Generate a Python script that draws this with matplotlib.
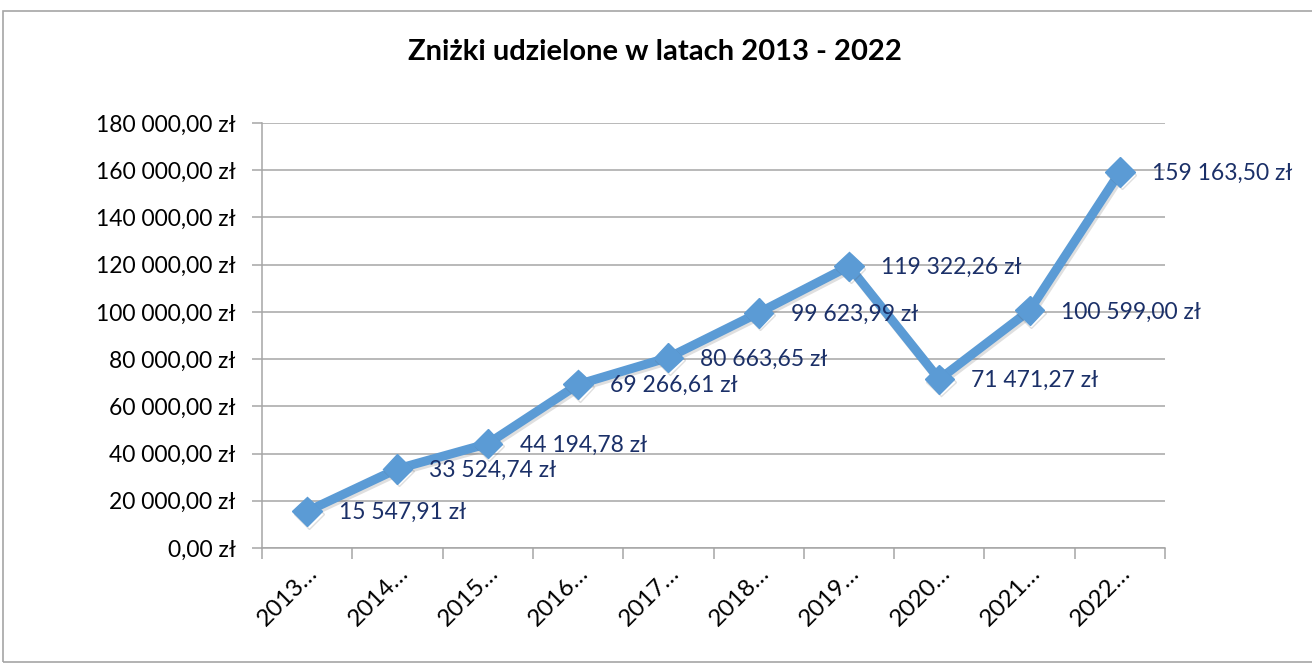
import matplotlib
matplotlib.use("Agg")
import matplotlib.pyplot as plt
from matplotlib.patches import Rectangle
from matplotlib.transforms import ScaledTranslation
import matplotlib.patheffects as pe

categories = ["2013…", "2014…", "2015…", "2016…", "2017…", "2018…", "2019…", "2020…", "2021…", "2022…"]
values = [15547.91, 33524.74, 44194.78, 69266.61, 80663.65, 99623.99, 119322.26, 71471.27, 100599.00, 159163.50]
value_labels = ["15 547,91 zł", "33 524,74 zł", "44 194,78 zł", "69 266,61 zł", "80 663,65 zł",
                "99 623,99 zł", "119 322,26 zł", "71 471,27 zł", "100 599,00 zł", "159 163,50 zł"]
yticks = [0, 20000, 40000, 60000, 80000, 100000, 120000, 140000, 160000, 180000]
ytick_labels = ["0,00 zł", "20 000,00 zł", "40 000,00 zł", "60 000,00 zł", "80 000,00 zł",
                "100 000,00 zł", "120 000,00 zł", "140 000,00 zł", "160 000,00 zł", "180 000,00 zł"]
title = "Zniżki udzielone w latach 2013 - 2022"

plt.rcParams['font.family'] = ['Lato', 'DejaVu Sans']

W, H = 1312, 664
fig = plt.figure(figsize=(W / 100, H / 100), dpi=100)
fig.patch.set_facecolor('white')

# outer chart frame
fig.patches.append(Rectangle((3 / W, 2 / H), (W + 10) / W, (H - 13) / H, transform=fig.transFigure,
                             fill=False, edgecolor='#A6A6A6', linewidth=1.2, clip_on=False))

left, right, top, bottom = 262, 1165, 123, 548
ax = fig.add_axes([left / W, 1 - bottom / H, (right - left) / W, (bottom - top) / H])

x = list(range(len(categories)))
ax.set_xlim(-0.5, len(categories) - 0.5)
ax.set_ylim(0, 180000)

fs = 16.5
ax.set_yticks(yticks)
ax.set_yticklabels(ytick_labels, fontsize=fs, color='black')
ax.yaxis.grid(True, color='#A6A6A6', linewidth=1.1)
ax.set_axisbelow(True)

ax.set_xticks(x)
ax.set_xticklabels(categories, rotation=45, ha='right', rotation_mode='anchor', fontsize=17.5)
shift = ScaledTranslation(20 / 100, 0, fig.dpi_scale_trans)
for lbl in ax.get_xticklabels():
    lbl.set_transform(lbl.get_transform() + shift)
ax.set_xticks([i - 0.5 for i in range(len(categories) + 1)], minor=True)
ax.tick_params(axis='x', which='major', length=0, pad=10)
ax.tick_params(axis='x', which='minor', length=8, color='#A6A6A6', width=1.1)
ax.tick_params(axis='y', length=7, color='#A6A6A6', width=1.1, pad=12)

for s in ['top', 'right']:
    ax.spines[s].set_visible(False)
for s in ['left', 'bottom']:
    ax.spines[s].set_color('#A6A6A6')
    ax.spines[s].set_linewidth(1.1)

line_color = '#5B9BD5'
shadow = [pe.SimpleLineShadow(offset=(1.2, -1.8), shadow_color='#505050', alpha=0.18), pe.Normal()]
ax.plot(x, values, color=line_color, linewidth=6.5, marker='D', markersize=15,
        markerfacecolor=line_color, markeredgecolor=line_color, solid_joinstyle='miter',
        path_effects=shadow, zorder=3, clip_on=False)

for xi, v, lab in zip(x, values, value_labels):
    ax.annotate(lab, (xi, v), xytext=(23, -1), textcoords='offset points',
                ha='left', va='center', fontsize=fs, color='#1B3068', zorder=4)

fig.text(655 / W, 1 - 52 / H, title, ha='center', va='center',
         fontsize=21, fontweight='bold', color='black')

fig.savefig('out.png', dpi=100)
